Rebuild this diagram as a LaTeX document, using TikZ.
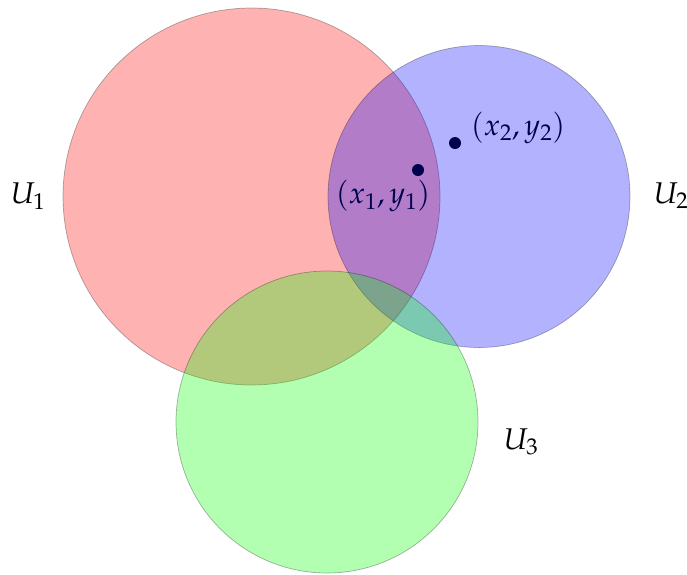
\documentclass[tikz,border=0pt]{standalone}
\usepackage{mathpazo}
\begin{document}
\begin{tikzpicture}[x=1pt,y=-1pt,
  lbl/.style={inner sep=0pt,font=\fontsize{30}{36}\selectfont},
  dotmark/.style={circle,fill=black,inner sep=0pt,minimum size=12pt},
  setdisk/.style={draw=black,line width=0.7pt,opacity=0.3}]
\useasboundingbox (0,0) rectangle (687,574);
% first disk
\fill[red,setdisk] (251.5,196.5) circle (188.5);
% labels and points (tinted by the disks drawn above them)
\node[lbl] (u1) at (28,196) {$U_1$};
\node[lbl] (u2) at (671,196) {$U_2$};
\node[lbl] (u3) at (521,442) {$U_3$};
\node[dotmark] (p1) at (418,170) {};
\node[dotmark] (p2) at (455,143) {};
\node[lbl] (l1) at (383,196) {$(x_1,y_1)$};
\node[lbl] (l2) at (518,128) {$(x_2,y_2)$};
% other disks
\fill[blue,setdisk] (479,196.5) circle (151);
\fill[green,setdisk] (327,422) circle (151);
\end{tikzpicture}
\end{document}
